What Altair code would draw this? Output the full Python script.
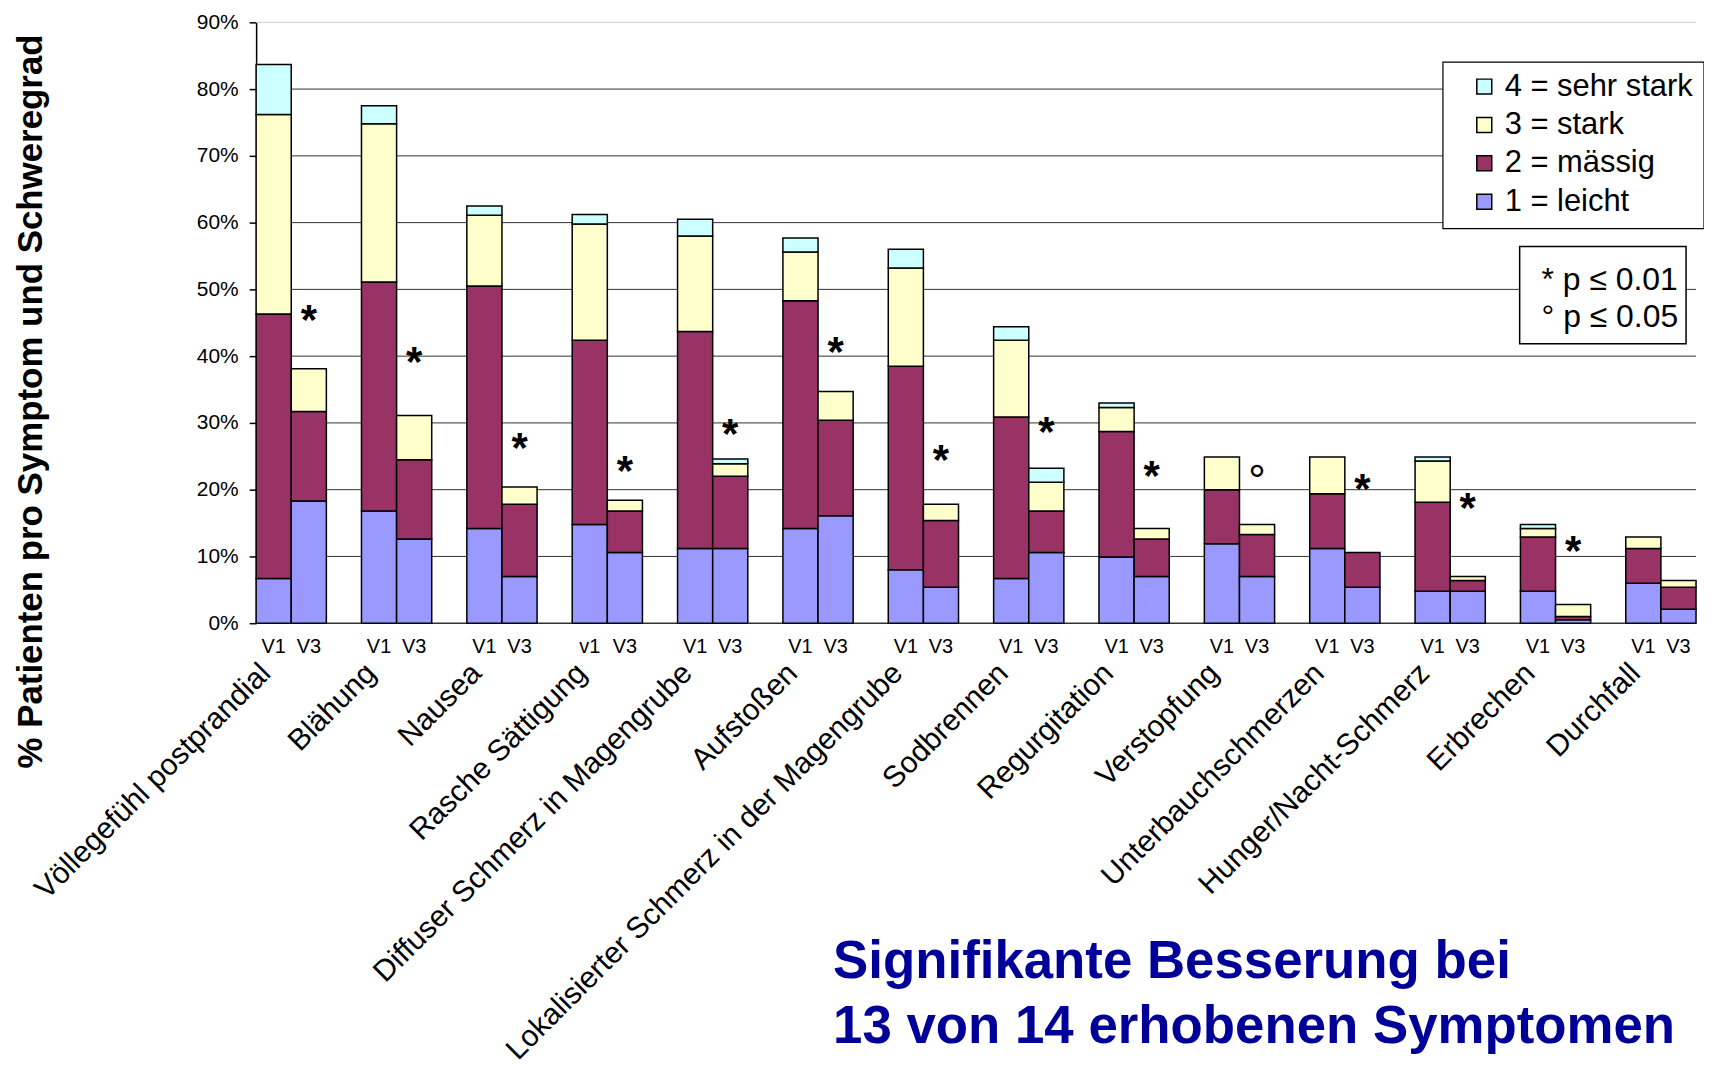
import altair as alt
import pandas as pd

# ---------------- data ----------------
symptoms = [
    "Völlegefühl postprandial", "Blähung", "Nausea", "Rasche Sättigung",
    "Diffuser Schmerz in Magengrube", "Aufstoßen",
    "Lokalisierter Schmerz in der Magengrube", "Sodbrennen", "Regurgitation",
    "Verstopfung", "Unterbauchschmerzen", "Hunger/Nacht-Schmerz", "Erbrechen",
    "Durchfall",
]
v1_labels = ["V1", "V1", "V1", "v1", "V1", "V1", "V1", "V1", "V1", "V1", "V1", "V1", "V1", "V1"]
v3_labels = ["V3"] * 14

severity_labels = ["1 = leicht", "2 = mässig", "3 = stark", "4 = sehr stark"]
severity_colors = ["#9999FF", "#993366", "#FFFFCC", "#CCFFFF"]

# percent of patients per severity grade (segment heights)
leicht_v1 = [6.7, 16.8, 14.2, 14.8, 11.2, 14.2, 8.0, 6.7, 9.9, 11.9, 11.2, 4.8, 4.8, 6.0]
maessig_v1 = [39.6, 34.3, 36.3, 27.6, 32.5, 34.1, 30.5, 24.2, 18.8, 8.1, 8.2, 13.3, 8.1, 5.2]
stark_v1 = [29.9, 23.7, 10.6, 17.4, 14.3, 7.3, 14.7, 11.5, 3.6, 4.9, 5.5, 6.2, 1.3, 1.7]
sehrstark_v1 = [7.5, 2.7, 1.4, 1.4, 2.5, 2.1, 2.8, 2.0, 0.7, 0.0, 0.0, 0.6, 0.6, 0.0]

leicht_v3 = [18.3, 12.6, 7.0, 10.6, 11.2, 16.1, 5.4, 10.6, 7.0, 7.0, 5.4, 4.8, 0.5, 2.1]
maessig_v3 = [13.4, 11.9, 10.8, 6.2, 10.8, 14.3, 10.0, 6.2, 5.6, 6.3, 5.2, 1.6, 0.5, 3.3]
stark_v3 = [6.4, 6.6, 2.6, 1.6, 1.9, 4.3, 2.4, 4.3, 1.6, 1.5, 0.0, 0.6, 1.8, 1.0]
sehrstark_v3 = [0.0, 0.0, 0.0, 0.0, 0.7, 0.0, 0.0, 2.1, 0.0, 0.0, 0.0, 0.0, 0.0, 0.0]

sig_marks = ["*", "*", "*", "*", "*", "*", "*", "*", "*", "°", "*", "*", "*", ""]
sig_levels = [46.0, 39.7, 26.8, 23.4, 28.9, 41.2, 25.1, 29.3, 22.7, 22.8, 20.7, 17.9, 11.4, 0.0]

grid_values = [0, 10, 20, 30, 40, 50, 60, 70, 80, 90]
p_legend_lines = ["* p ≤ 0.01", "° p ≤ 0.05"]
headline_lines = ["Signifikante Besserung bei", "13 von 14 erhobenen Symptomen"]
y_title = "% Patienten pro Symptom und Schweregrad"

FONT = "Liberation Sans"
W, H = 1445, 603

# ---------------- tables ----------------
v1_series = [leicht_v1, maessig_v1, stark_v1, sehrstark_v1]
v3_series = [leicht_v3, maessig_v3, stark_v3, sehrstark_v3]
rows = []
for g, s in enumerate(symptoms):
    for vi, (series, labels) in enumerate([(v1_series, v1_labels), (v3_series, v3_labels)]):
        slot = 3 * g + vi
        for k, sev in enumerate(severity_labels):
            rows.append({"symptom": s, "slot": slot, "visit": labels[g],
                         "sev": sev, "order": k, "value": series[k][g]})
bars = pd.DataFrame(rows)
visits = bars.drop_duplicates("slot")[["slot", "visit"]]
cats = pd.DataFrame({"symptom": symptoms, "g": list(range(len(symptoms)))})
sig = pd.DataFrame({"mark": sig_marks, "level": sig_levels, "g": list(range(len(symptoms)))})
sig = sig[sig["mark"] != ""]
grid = pd.DataFrame({"gv": grid_values})
one = pd.DataFrame({"k": [0]})

legend_order = list(reversed(severity_labels))
legend_colors = list(reversed(severity_colors))

xscale = alt.Scale(domain=[0, 3 * len(symptoms) - 1], nice=False, zero=False)
yscale = alt.Scale(domain=[0, 90], nice=False, zero=True)

y_axis = alt.Axis(
    values=grid_values, labelExpr="datum.value + '%'", grid=False,
    domainColor="black", domainWidth=1.5, tickColor="black", tickSize=7, tickWidth=1.5,
    labelFont=FONT, labelFontSize=21, labelColor="black", labelPadding=11,
    titleFont=FONT, titleFontSize=35, titleFontWeight="bold", titleColor="black",
    titleAngle=270, titleX=-215, titleY=380, titleAlign="center", titleBaseline="alphabetic",
)

grid_layer = alt.Chart(grid).mark_rule().encode(
    y=alt.Y("gv:Q", scale=yscale, axis=y_axis, title=y_title),
    color=alt.condition("datum.gv == 90", alt.value("#d0d0d0"), alt.value("#333333")),
    strokeWidth=alt.condition("datum.gv == 0", alt.value(1.5), alt.value(1)),
)

legend_box = alt.Chart(one).mark_rect(fill="white", stroke="black", strokeWidth=1.2).encode(
    x=alt.value(1191), x2=alt.value(1453), y=alt.value(40), y2=alt.value(207)
)

bar_layer = alt.Chart(bars).transform_stack(
    stack="value", groupby=["slot"], sort=[alt.SortField("order", order="ascending")], as_=["y0", "y1"]
).transform_filter("datum.value > 0").transform_calculate(
    x1="datum.slot + 1"
).mark_rect(stroke="black", strokeWidth=1.5).encode(
    x=alt.X("slot:Q", scale=xscale, axis=None),
    x2="x1:Q",
    y=alt.Y("y0:Q", scale=yscale, title=y_title),
    y2="y1:Q",
    color=alt.Color(
        "sev:N",
        scale=alt.Scale(domain=legend_order, range=legend_colors),
        legend=alt.Legend(
            title=None, orient="none", legendX=1217, legendY=49, padding=0,
            symbolType="square", symbolSize=225, symbolStrokeColor="black",
            symbolStrokeWidth=1.5, symbolOffset=0, symbolOpacity=1,
            labelFont=FONT, labelFontSize=31, labelColor="black",
            labelOffset=5, labelLimit=400, rowPadding=6.5,
        ),
    ),
)

visit_layer = alt.Chart(visits).transform_calculate(xc="datum.slot + 0.5").mark_text(
    font=FONT, fontSize=20, align="center", baseline="alphabetic", color="black"
).encode(
    x=alt.X("xc:Q", scale=xscale, axis=None),
    y=alt.value(H + 29.5),
    text="visit:N",
)

# text rotated -45deg; dx/dy apply in the rotated frame (screen offset ~ -19px in x)
cat_layer = alt.Chart(cats).transform_calculate(gx="datum.g * 3 + 1").mark_text(
    font=FONT, fontSize=30, align="right", baseline="alphabetic", angle=315,
    dx=-13.5, dy=-13.5, color="black"
).encode(
    x=alt.X("gx:Q", scale=xscale, axis=None),
    y=alt.value(H + 52),
    text="symptom:N",
)

star_layer = alt.Chart(sig).transform_filter("datum.mark == '*'").transform_calculate(
    gx="datum.g * 3 + 1.5"
).mark_text(
    font=FONT, fontSize=42, fontWeight="bold", align="center", baseline="alphabetic",
    dy=18, color="black"
).encode(
    x=alt.X("gx:Q", scale=xscale, axis=None),
    y=alt.Y("level:Q", scale=yscale, title=y_title),
    text="mark:N",
)

ring_layer = alt.Chart(sig).transform_filter("datum.mark != '*'").transform_calculate(
    gx="datum.g * 3 + 1.5"
).mark_text(
    font=FONT, fontSize=44, align="center", baseline="alphabetic",
    dy=25, color="black"
).encode(
    x=alt.X("gx:Q", scale=xscale, axis=None),
    y=alt.Y("level:Q", scale=yscale, title=y_title),
    text="mark:N",
)

pbox_layer = alt.Chart(one).mark_rect(fill="white", stroke="black", strokeWidth=1.5).encode(
    x=alt.value(1268), x2=alt.value(1435), y=alt.value(225), y2=alt.value(322.5)
)

ptext_layer = alt.Chart(one).mark_text(
    text=p_legend_lines, font=FONT, fontSize=32, align="left", baseline="alphabetic",
    lineHeight=37, color="black"
).encode(x=alt.value(1290), y=alt.value(269))

headline_layer = alt.Chart(one).mark_text(
    text=headline_lines, font=FONT, fontSize=53, fontWeight="bold", align="left",
    baseline="alphabetic", lineHeight=65, color="#000099"
).encode(x=alt.value(579), y=alt.value(959.5))

chart = alt.layer(
    grid_layer, legend_box, bar_layer, visit_layer, cat_layer, star_layer, ring_layer,
    pbox_layer, ptext_layer, headline_layer,
).properties(
    width=W, height=H,
    padding={"left": 249, "top": 12.5, "right": 8, "bottom": 446},
    autosize=alt.AutoSizeParams(type="none"),
).configure(font=FONT).configure_view(stroke=None)

chart.save("out.html", embed_options={"renderer": "svg", "actions": False})
